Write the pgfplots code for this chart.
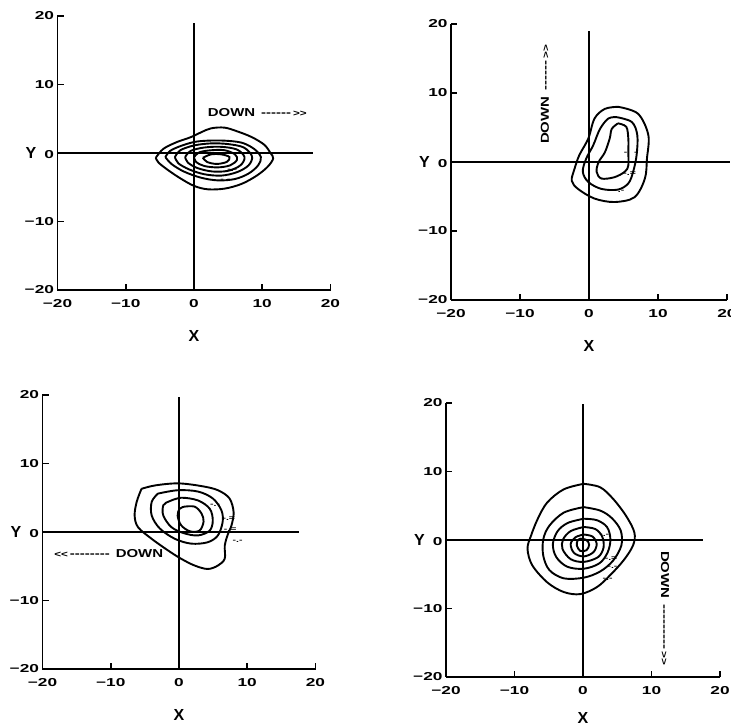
\documentclass[border=0pt]{standalone}
\usepackage{fontspec}
\setmainfont{Liberation Sans}
\usepackage{pgfplots}
\pgfplotsset{compat=1.18}
\newfontfamily\tickfamily[FakeStretch=1.5]{Liberation Sans Bold}
\newfontfamily\downfamily[FakeStretch=1.3]{Liberation Sans Bold}
\newfontfamily\labfamily{Liberation Sans Bold}
\newcommand\tickfont{\tickfamily\fontsize{11.5}{13}\selectfont}
\newcommand\downfont{\downfamily\fontsize{11.5}{13}\selectfont}
\newcommand\labfont{\labfamily\fontsize{16}{18}\selectfont}
\newcommand\cfont{\tickfamily\fontsize{7}{8}\selectfont}
\pgfplotsset{
 panel/.style={scale only axis, xmin=-20, xmax=20, ymin=-20, ymax=20,
  axis x line=bottom, axis y line=left,
  axis line style={-, line width=1.8pt},
  xtick={-20,-10,0,10,20}, ytick={-20,-10,0,10,20},
  xticklabels={−20,−10,0,10,20},
  yticklabels={−20,−10,{{\labfont Y}\hspace{8pt}0},10,20},
  tick align=inside, major tick length=6pt,
  tick style={line width=1.6pt, black},
  ticklabel style={font=\tickfont},
  xticklabel style={yshift=-6pt},
  xlabel={X},
  xlabel style={font=\labfont, at={(axis description cs:0.5,0)}, anchor=center, yshift=-46pt},
  clip=false},
 cl/.style={black, line width=1.9pt, smooth, tension=0.55, mark=none},
 ax/.style={black, line width=1.9pt, mark=none},
}
\begin{document}
\begin{tikzpicture}
\useasboundingbox (0,0) rectangle (731pt,727pt);
\clip (0,0) rectangle (731pt,727pt);

% ---------------- Panel 1 (top left)
\begin{axis}[panel, at={(57.5pt,437pt)}, anchor=south west, width=273pt, height=274pt]
\addplot[ax] coordinates {(0,-20) (0,19)};
\addplot[ax] coordinates {(-20,0) (17.4,0)};
\addplot[cl] coordinates {(-5.6,-0.7) (-4.5,0.6) (-2.5,1.6) (-0.5,2.3) (1,3.0) (2.5,3.6) (4.5,3.7) (6.5,3.1) (8.5,2.3) (10.3,1.2) (11.2,0) (11.6,-0.8) (10.8,-2.0) (9.2,-3.3) (7,-4.5) (4.5,-5.2) (2,-5.3) (0,-4.8) (-2,-3.7) (-3.8,-2.5) (-5.2,-1.4) (-5.6,-0.7)};
\addplot[cl] coordinates {(-4.2,-0.6) (-3.5,0.3) (-2,1.0) (0,1.6) (2,1.8) (4.5,1.8) (7,1.5) (8.8,0.6) (9.8,-0.6) (9.4,-1.8) (8,-3.0) (6,-3.8) (3.5,-4.0) (1,-3.6) (-1.5,-2.7) (-3.3,-1.6) (-4.2,-0.6)};
\addplot[cl] coordinates {(-2.8,-0.6) (-2,0.4) (0,1.1) (2.5,1.4) (5,1.3) (7.3,0.8) (8.5,-0.5) (8,-1.8) (6.3,-2.8) (4,-3.3) (1.5,-3.1) (-0.7,-2.4) (-2.3,-1.5) (-2.8,-0.6)};
\addplot[cl] coordinates {(-1.3,-0.6) (-0.5,0.3) (1.5,0.8) (4,0.9) (6.3,0.5) (7.4,-0.6) (6.8,-1.8) (5,-2.6) (2.7,-2.7) (0.5,-2.2) (-0.9,-1.4) (-1.3,-0.6)};
\addplot[cl] coordinates {(0,-0.6) (0.8,0.1) (2.5,0.4) (4.5,0.4) (6,-0.2) (6.3,-1.0) (5.3,-1.8) (3.5,-2.1) (1.5,-1.9) (0.3,-1.3) (0,-0.6)};
\addplot[cl] coordinates {(1.3,-0.7) (2.5,-0.2) (4,-0.2) (5.2,-0.6) (4.8,-1.3) (3.3,-1.6) (1.9,-1.3) (1.3,-0.7)};
\node[font=\cfont] at (axis cs:4.6,-4.0) {-.-};
\node[font=\cfont] at (axis cs:5.6,-2.6) {-.-};
\node[anchor=west, font=\downfont, inner sep=0pt] at (axis cs:2,5.9) {DOWN\hspace{6pt}-{}-{}-{}-{}-{}-\hspace{2pt}{\small >{}>}};
\end{axis}

% ---------------- Panel 2 (top right)
\begin{axis}[panel, at={(451pt,427pt)}, anchor=south west, width=276pt, height=276pt]
\addplot[ax] coordinates {(0,-20) (0,19)};
\addplot[ax] coordinates {(-20,0) (20.5,0)};
\addplot[cl] coordinates {(4.2,8.0) (7.1,7.0) (8.6,3.9) (8.4,0.5) (8.1,-2.4) (6.6,-5.1) (3.7,-5.8) (0.8,-5.3) (-1.6,-3.9) (-2.5,-2.7) (-2.1,-1.0) (-1.4,1.0) (-0.1,3.4) (0.8,6.3) (2.3,7.7) (4.2,8.0)};
\addplot[cl] coordinates {(4.0,6.5) (6.2,5.8) (7.0,3.9) (6.9,1.0) (6.4,-1.4) (5.7,-3.1) (4.2,-4.0) (1.8,-3.9) (-0.1,-2.9) (-0.9,-1.4) (-0.4,0.5) (0.6,2.4) (1.6,4.8) (2.8,6.3) (4.0,6.5)};
\addplot[cl] coordinates {(4.2,5.6) (5.4,5.1) (5.7,3.4) (5.7,1.4) (5.7,-0.5) (5.2,-1.4) (3.7,-2.2) (1.8,-2.4) (1.1,-1.4) (1.4,0) (2.3,1.4) (3.0,3.4) (3.3,4.8) (4.2,5.6)};
\node[font=\cfont] at (axis cs:5.3,1.2) {-};
\node[font=\cfont] at (axis cs:6.8,1.2) {-};
\node[font=\cfont] at (axis cs:5.9,-1.7) {-.=};
\node[font=\cfont] at (axis cs:4.4,-4.2) {-.-};
\node[rotate=90, anchor=west, font=\downfont, inner sep=0pt] at (axis cs:-6.4,2.6) {DOWN\hspace{6pt}-{}-{}-{}-{}-{}-\hspace{2pt}{\small >{}>}};
\end{axis}

% ---------------- Panel 3 (bottom left)
\begin{axis}[panel, at={(42.5pt,58pt)}, anchor=south west, width=273pt, height=274pt]
\addplot[ax] coordinates {(0,-20) (0,19.7)};
\addplot[ax] coordinates {(-20,0) (17.6,0)};
\addplot[cl] coordinates {(-5.5,6.3) (-3.5,6.8) (-0.15,7.1) (3.3,6.7) (5.7,6.1) (7.4,4.9) (8.0,2.9) (7.7,1.0) (7.1,-0.5) (6.7,-2.0) (6.7,-3.9) (5.7,-4.9) (4.2,-5.4) (2.3,-4.9) (0.3,-3.9) (-1.6,-2.7) (-4.0,-1.0) (-6.0,0.7) (-6.5,2.4) (-6.2,4.4) (-5.5,6.3)};
\addplot[cl] coordinates {(-3.1,5.6) (-0.15,6.1) (2.8,5.9) (4.95,4.9) (6.2,3.2) (6.4,1.5) (5.7,-0.5) (4.2,-1.5) (1.8,-1.7) (-0.6,-1.0) (-2.8,0.5) (-4.0,2.4) (-4.0,4.4) (-3.1,5.6)};
\addplot[cl] coordinates {(-1.6,4.4) (0.3,5.0) (2.8,4.6) (4.5,3.4) (4.95,1.7) (4.5,0.2) (2.8,-0.5) (0.8,-0.2) (-1.1,0.7) (-2.3,2.4) (-2.3,3.9) (-1.6,4.4)};
\addplot[cl] coordinates {(0.8,3.7) (2.3,3.7) (3.3,2.7) (3.6,1.5) (3.0,0.2) (1.6,0.1) (0.3,1.0) (-0.2,2.4) (0.1,3.4) (0.8,3.7)};
\node[font=\cfont] at (axis cs:5.3,3.9) {-.-};
\node[font=\cfont] at (axis cs:7.3,1.9) {-.=};
\node[font=\cfont] at (axis cs:7.5,0.4) {-.=};
\node[font=\cfont] at (axis cs:8.6,-1.4) {-.-};
\node[anchor=east, font=\downfont, inner sep=0pt] at (axis cs:-2.3,-3.2) {{\small <{}<}\hspace{2pt}-{}-{}-{}-{}-{}-{}-{}-\hspace{6pt}DOWN};
\end{axis}

% ---------------- Panel 4 (bottom right)
\begin{axis}[panel, at={(446pt,50pt)}, anchor=south west, width=274pt, height=274pt,
  xlabel style={yshift=5pt}]
\addplot[ax] coordinates {(0,-20) (0,19.9)};
\addplot[ax] coordinates {(-20,0) (17.5,0)};
\addplot[cl] coordinates {(0.1,8.2) (2.5,7.7) (4.4,6.0) (6.3,3.5) (7.5,1.1) (7.3,-0.8) (5.9,-3.0) (3.9,-5.2) (2.0,-6.9) (-0.4,-7.9) (-2.8,-7.6) (-5.2,-6.2) (-7.4,-3.7) (-8.1,-1.3) (-7.6,0.6) (-6.6,3.1) (-5.2,5.5) (-2.8,7.4) (0.1,8.2)};
\addplot[cl] coordinates {(0.1,4.8) (2.5,4.3) (4.2,3.2) (5.5,1.4) (5.6,-0.8) (4.4,-3.0) (2.5,-4.6) (0.1,-5.5) (-2.8,-5.6) (-4.9,-4.4) (-5.8,-2.3) (-5.8,0.1) (-4.9,2.1) (-2.8,4.0) (0.1,4.8)};
\addplot[cl] coordinates {(0.1,3.1) (2.0,2.9) (3.5,1.9) (4.0,0.1) (3.6,-1.8) (2.4,-3.4) (0.1,-4.2) (-2.3,-3.9) (-3.9,-2.5) (-4.4,-0.6) (-3.7,1.3) (-2.2,2.5) (0.1,3.1)};
\addplot[cl] coordinates {(0.1,1.9) (1.8,1.6) (2.8,0.5) (3.0,-1.1) (2.2,-2.5) (0.1,-3.2) (-1.8,-2.8) (-3.0,-1.3) (-2.9,0.1) (-1.8,1.3) (0.1,1.9)};
\addplot[cl] coordinates {(0.1,0.8) (1.4,0.5) (2.0,-0.6) (1.5,-1.8) (0.1,-2.4) (-1.3,-1.9) (-1.8,-0.6) (-1.1,0.4) (0.1,0.8)};
\addplot[cl] coordinates {(-0.4,0.2) (0.5,0.0) (0.9,-0.7) (0.5,-1.5) (-0.4,-1.6) (-0.9,-0.8) (-0.8,-0.1) (-0.4,0.2)};
\node[font=\cfont] at (axis cs:3.1,0.6) {-.-};
\node[font=\cfont] at (axis cs:4.1,-2.8) {-.=};
\node[font=\cfont] at (axis cs:4.3,-4.0) {-.-};
\node[font=\cfont] at (axis cs:3.6,-5.7) {-.-};
\node[rotate=-90, anchor=west, font=\downfont, inner sep=0pt] at (axis cs:12,-1.6) {DOWN\hspace{6pt}-{}-{}-{}-{}-{}-{}-{}-{}-\hspace{2pt}{\small >{}>}};
\end{axis}
\end{tikzpicture}
\end{document}
